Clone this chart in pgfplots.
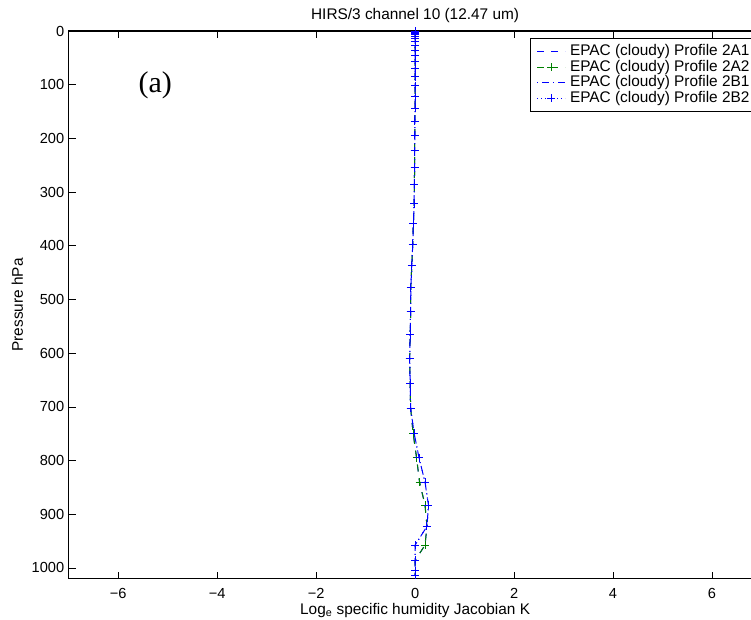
\documentclass[border=0pt]{standalone}
\usepackage{fontspec}
\setmainfont{Liberation Sans}
\newfontfamily\serifa{Liberation Serif}
\usepackage{pgfplots}
\pgfplotsset{compat=1.18}
\usepackage{pgfplotstable}

% p = pressure (hPa), A = profiles 2A1/2A2, B = profiles 2B1/2B2
\pgfplotstableread{
p       A       B
0.1     0.0     0.0
0.29    0.0     0.0
0.69    0.0     0.0
1.42    0.0     0.0
2.611   0.0     0.0
4.407   0.0     0.0
6.95    0.0     0.0
10.37   0.0     0.0
14.81   0.0     0.0
20.4    0.0     0.0
27.26   0.0     0.0
35.51   0.0     0.0
45.29   0.0     0.0
56.73   0.0     0.0
69.97   0.0     0.0
85.18   0.0     0.0
102.05  0.0     0.0
122.04  0.0     0.0
143.84  0.0     0.0
167.95  -0.005  -0.005
194.36  -0.005  -0.005
222.94  -0.01   -0.01
253.71  -0.01   -0.01
286.6   -0.015  -0.015
321.5   -0.02   -0.02
358.28  -0.035  -0.035
396.81  -0.047  -0.047
436.95  -0.067  -0.067
478.54  -0.087  -0.087
521.46  -0.09   -0.09
565.54  -0.1    -0.1
610.6   -0.11   -0.11
656.43  -0.1    -0.1
702.73  -0.09   -0.09
749.12  -0.04   -0.02
795.09  0.03    0.08
839.95  0.09    0.2
882.8   0.2     0.27
922.46  0.24    0.24
957.44  0.2     0.0
985.88  0.0     0.0
1005.43 0.0     0.0
1013.25 0.0     0.0
}\jac

\definecolor{mgreen}{rgb}{0,0.5,0}

\begin{document}
\begin{tikzpicture}
\begin{axis}[
  name=ax, at={(0,0)}, anchor=south west,
  scale only axis, width=692.8bp, height=547.7bp,
  xmin=-7, xmax=7, ymin=0, ymax=1020, y dir=reverse,
  xtick={-6,-4,-2,0,2,4,6},
  xticklabels={−6,−4,−2,0,2,4,6},
  ytick={0,100,200,300,400,500,600,700,800,900,1000},
  yticklabels={0,100,200,300,400,500,600,700,800,900,1000},
  tick align=inside, major tick length=7bp,
  axis line style={line width=1.1bp},
  tick style={line width=0.7bp, black},
  ticklabel style={font=\fontsize{14.6bp}{18bp}\selectfont},
  xticklabel style={anchor=base, yshift=-20bp},
  yticklabel style={anchor=east, xshift=-1bp},
  title={HIRS/3 channel 10 (12.47 um)},
  title style={font=\fontsize{15.4bp}{18bp}\selectfont, at={(axis description cs:0.5,1)}, anchor=base, yshift=5.5bp},
  xlabel={Log\textsubscript{e} specific humidity Jacobian K},
  xlabel style={font=\fontsize{15.4bp}{18bp}\selectfont, at={(axis description cs:0.5,-0.0648)}, anchor=base},
  ylabel={Pressure hPa},
  ylabel style={font=\fontsize{15.4bp}{18bp}\selectfont, at={(axis description cs:-0.066,0.5)}, anchor=base},
  legend cell align=left,
  legend style={at={(1,1)}, anchor=north east, xshift=-1bp, yshift=-7.3bp,
    font=\fontsize{15.4bp}{15.5bp}\selectfont, draw=black, line width=1bp,
    inner xsep=6bp, inner ysep=5.2bp,
    nodes={inner ysep=0pt, inner xsep=4.5bp, text height=11.5bp, text depth=4bp}},
  legend image code/.code={
    \draw[mark repeat=2,mark phase=2,#1] plot coordinates {(0bp,0bp) (14bp,0bp) (28bp,0bp)};
  },
]
\addplot[blue, line width=1bp, dash pattern=on 7bp off 7bp] table[x=A, y=p] {\jac};
\addlegendentry{EPAC (cloudy) Profile 2A1}
\addplot[mgreen, line width=1bp, dash pattern=on 7bp off 7bp, mark=+, mark size=4bp, mark options={solid}] table[x=A, y=p] {\jac};
\addlegendentry{EPAC (cloudy) Profile 2A2}
\addplot[blue, line width=1bp, dash pattern=on 1bp off 4bp on 7bp off 4bp] table[x=B, y=p] {\jac};
\addlegendentry{EPAC (cloudy) Profile 2B1}
\addplot[blue, line width=1bp, dash pattern=on 1bp off 3bp, mark=+, mark size=4bp, mark options={solid}] table[x=B, y=p] {\jac};
\addlegendentry{EPAC (cloudy) Profile 2B2}
\node at (axis cs:-5.25,102) {\serifa\fontsize{30bp}{30bp}\selectfont (a)};
\end{axis}
\pgfresetboundingbox
\useasboundingbox (-68.7bp,-41.3bp) rectangle (682.3bp,578.7bp);
\end{tikzpicture}
\end{document}
